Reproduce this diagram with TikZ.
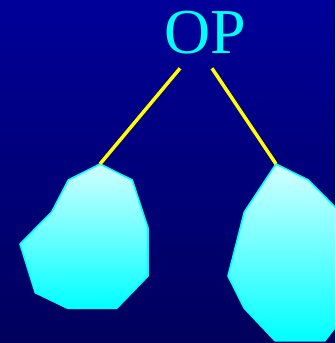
\documentclass[tikz,border=0pt]{standalone}
\usepackage{fontspec}
\setmainfont{Liberation Serif}
\definecolor{bgtop}{RGB}{0,0,153}
\definecolor{bgbot}{RGB}{0,0,92}
\definecolor{blobtop}{RGB}{210,255,255}
\definecolor{blobbot}{RGB}{0,255,255}
\definecolor{cyanrgb}{RGB}{0,255,255}
\definecolor{yellowrgb}{RGB}{255,255,0}
\tikzset{
  blob/.style={draw=cyanrgb, line width=1.6pt, line join=round, top color=blobtop, bottom color=blobbot},
  branch/.style={draw=yellowrgb, line width=3.5pt},
  label/.style={text=cyanrgb, font=\fontsize{64}{64}\selectfont, inner sep=0pt}
}
\begin{document}
\begin{tikzpicture}[x=1pt,y=-1pt]
\useasboundingbox (0,0) rectangle (335,343);
\shade[top color=bgtop, bottom color=bgbot] (0,0) rectangle (335,343);
\clip (0,0) rectangle (335,343);
\node[label, anchor=base] (op) at (205,53) {OP};
\shade[blob] (100,164) -- (132.3,180) -- (148,228) -- (148,276) -- (116.7,308.3) -- (67.7,308.3) -- (35.3,292.7) -- (20,244) -- (51.7,212) -- (68.3,180) -- cycle;
\shade[blob] (276,164) -- (308.3,180) -- (340,212) -- (356,260) -- (356,300) -- (325,340.7) -- (275,340.7) -- (244.3,308.3) -- (228,276) -- (244.3,212) -- cycle;
\coordinate (l1) at (180,68.3);
\coordinate (l2) at (100,164);
\coordinate (r1) at (212,68.3);
\coordinate (r2) at (276,164);
\draw[branch] (l1) -- (l2);
\draw[branch] (r1) -- (r2);
\end{tikzpicture}
\end{document}
